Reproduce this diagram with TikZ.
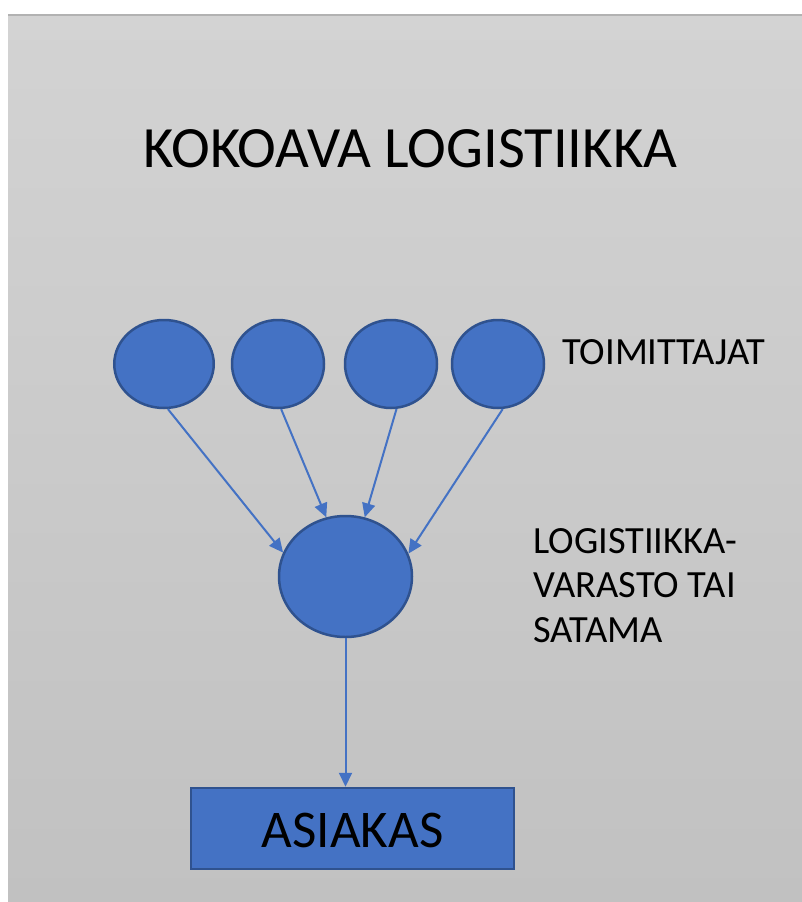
\documentclass[tikz,border=0pt]{standalone}
\usepackage{fontspec}
\setmainfont{Carlito}
\usetikzlibrary{shapes.geometric,arrows.meta}
\definecolor{nodefill}{HTML}{4472C4}
\definecolor{nodeedge}{HTML}{2F528F}
\definecolor{bgtop}{HTML}{D3D3D3}
\definecolor{bgbottom}{HTML}{C1C1C1}
\definecolor{rimline}{HTML}{B2B2B2}
\tikzset{
  supplier/.style={ellipse, draw=nodeedge, fill=nodefill, line width=2.5pt,
    minimum width=92pt, minimum height=88pt, inner sep=0pt},
  hubnode/.style={ellipse, draw=nodeedge, fill=nodefill, line width=2.5pt,
    minimum width=133pt, minimum height=121pt, inner sep=0pt},
  customer/.style={rectangle, draw=nodeedge, fill=nodefill, line width=2.5pt,
    minimum width=323pt, minimum height=81pt, inner sep=0pt},
  flow/.style={draw=nodefill, line width=2pt,
    -{Triangle[length=14pt,width=13pt]}},
  label/.style={inner sep=0pt, font=\fontsize{38.5}{44.5}\selectfont, align=left}
}
\begin{document}
\begin{tikzpicture}[x=1pt,y=-1pt]
  \useasboundingbox (0,0) rectangle (802,902);
  % slide background
  \fill[white] (0,0) rectangle (802,902);
  \shade[top color=bgtop, bottom color=bgbottom] (8,15) rectangle (802,902);
  \fill[rimline] (8,13.5) rectangle (802,16);

  % title
  \node[inner sep=0pt, anchor=base, font=\fontsize{58.5}{62}\selectfont]
    (title) at (410.5,167) {KOKOAVA LOGISTIIKKA};

  % suppliers
  \node[supplier, minimum width=99.5pt] (s1) at (164,364) {};
  \node[supplier] (s2) at (278,364) {};
  \node[supplier] (s3) at (391,364) {};
  \node[supplier] (s4) at (498,364) {};
  \node[label, anchor=base west] (suppliers) at (562,364) {TOIMITTAJAT};

  % warehouse / port
  \node[hubnode] (hub) at (345.5,576.5) {};
  \node[label, anchor=north west] (hublabel) at (533,528)
    {LOGISTIIKKA-\\VARASTO TAI\\SATAMA};

  % customer
  \node[customer] (cust) at (352.5,828.5) {};
  \node[inner sep=0pt, anchor=base, font=\fontsize{53}{60}\selectfont]
    (custtext) at (352.5,847) {ASIAKAS};

  % flows
  \draw[flow] (s1.-85) -- (hub.159);
  \draw[flow] (s2.-86) -- (hub.108);
  \draw[flow] (s3.-83) -- (hub.72);
  \draw[flow] (s4.-84) -- (hub.20);
  \draw[flow] (hub.south) -- (cust.north -| hub.south);
\end{tikzpicture}
\end{document}
